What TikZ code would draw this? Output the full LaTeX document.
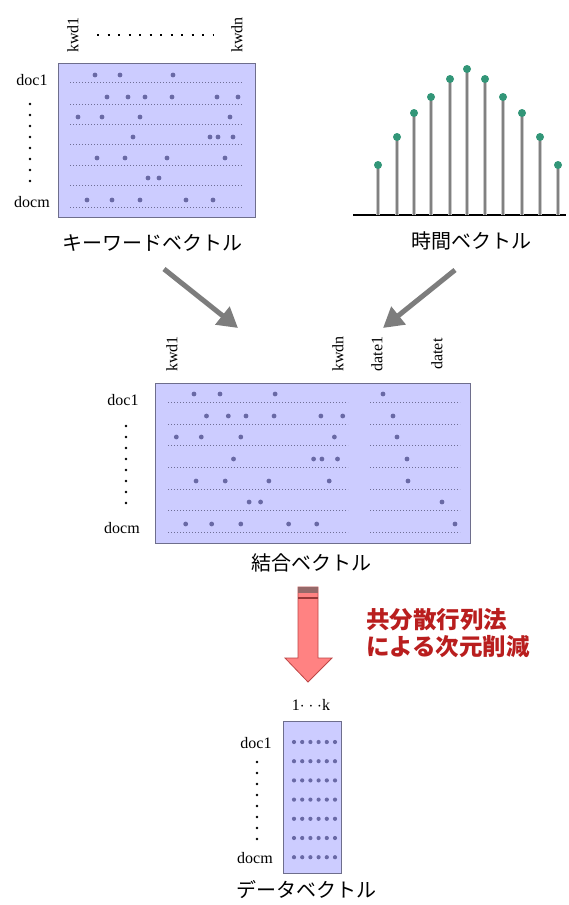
\documentclass[tikz,border=0pt]{standalone}
\usepackage{fontspec}
\setmainfont{Liberation Serif}
\newfontfamily\jp{Noto Sans CJK JP}
\usetikzlibrary{arrows.meta}
\definecolor{matfill}{RGB}{204,204,255}
\definecolor{matedge}{RGB}{110,110,140}
\definecolor{markc}{RGB}{105,105,165}
\definecolor{linec}{RGB}{110,110,150}
\definecolor{teal}{RGB}{50,150,120}
\definecolor{stemc}{RGB}{150,150,150}
\definecolor{arrg}{RGB}{125,125,125}
\definecolor{pinkf}{RGB}{255,130,130}
\definecolor{pinke}{RGB}{190,70,70}
\definecolor{pinkband}{RGB}{150,105,105}
\definecolor{redtxt}{RGB}{185,30,30}
\tikzset{
  matbox/.style={fill=matfill, draw=matedge, line width=1.2pt},
  rowline/.style={draw=linec, line width=0.8pt, dash pattern=on 1.4pt off 1.6pt},
  mk/.style={fill=markc},
  lbl/.style={font=\fontsize{16}{16}\selectfont, inner sep=0pt},
  rlbl/.style={font=\fontsize{16}{16}\selectfont, inner sep=0pt, rotate=90},
  jlbl/.style={font=\jp\fontsize{20}{20}\selectfont, inner sep=0pt},
  bigarrow/.style={draw=arrg, line width=5pt, -{Triangle[length=20pt,width=22pt]}},
  vdot/.style={fill=black},
}
\begin{document}
\begin{tikzpicture}[x=1pt,y=-1pt]
\useasboundingbox (0,0) rectangle (568,905);
\fill[white] (0,0) rectangle (568,905);

% ---------- keyword matrix ----------
\node[matbox, minimum width=197pt, minimum height=154pt, anchor=north west, inner sep=0pt] (kwmat) at (58,63) {};
\foreach \y/\xs in {75/{95,120,173},97/{107,128,145,172,217,238},117/{78,102,140,230},137/{133,210,218,233},158/{97,125,167,225},178/{148,159},200/{87,112,140,186,213}}{
  \draw[rowline] (70,\y+7) -- (243,\y+7);
  \foreach \x in \xs {\fill[mk] (\x,\y) circle (2.4pt);}
}
\node[rlbl] (kwd1a) at (73,35) {kwd1};
\node[rlbl] (kwdna) at (237,35) {kwdn};
\coordinate (hd1) at (97,35);
\coordinate (hd2) at (214,35);
\draw[line width=2.3pt, dash pattern=on 2.3pt off 8.2pt] (hd1) -- (hd2);
\node[lbl] (doc1a) at (32,80) {doc1};
\node[lbl] (docma) at (32,202) {docm};
\foreach \i in {0,...,7} {\fill[vdot] (30,{104+\i*11}) circle (1.3pt);}
\node[jlbl] (kwlbl) at (152,243) {キーワードベクトル};

% ---------- time vector ----------
\coordinate (tb1) at (353,215);
\coordinate (tb2) at (566,215);
\draw[line width=1.6pt] (tb1) -- (tb2);
\foreach \x/\t in {378/165,397/137,414/113,431/97,450/79,467/69,485/79,503/97,522/113,540/137,558/165}{
  \draw[stemc!50, line width=3.5pt] (\x,215) -- (\x,\t);
  \draw[stemc!120, line width=1.3pt] (\x,215) -- (\x,\t);
  \fill[teal] (\x,\t) circle (4pt);
}
\node[jlbl] (tvlbl) at (471,241) {時間ベクトル};

% ---------- arrows to combined ----------
\coordinate (a1s) at (164,269);
\coordinate (a1e) at (238,328);
\coordinate (a2s) at (455,270);
\coordinate (a2e) at (383,328);
\draw[bigarrow] (a1s) -- (a1e);
\draw[bigarrow] (a2s) -- (a2e);

% ---------- combined matrix ----------
\node[matbox, minimum width=315pt, minimum height=160pt, anchor=north west, inner sep=0pt] (cmat) at (155,383) {};
\foreach \y/\xs/\ds in {394/{95,120,173}/{383},416/{107,128,145,172,217,238}/{393},437/{78,102,140,230}/{397},459/{133,210,218,233}/{407},481/{97,125,167,225}/{408},502/{148,159}/{442},524/{87,112,140,186,213}/{455}}{
  \draw[rowline] (168,\y+8) -- (348,\y+8);
  \draw[rowline] (370,\y+8) -- (460,\y+8);
  \foreach \x in \xs {\fill[mk] ({168+(\x-70)*1.04},\y) circle (2.4pt);}
  \foreach \x in \ds {\fill[mk] (\x,\y) circle (2.4pt);}
}
\node[rlbl] (kwd1b) at (172,354) {kwd1};
\node[rlbl] (kwdnb) at (338,354) {kwdn};
\node[rlbl] (date1) at (377,354) {date1};
\node[rlbl] (datet) at (437,354) {datet};
\node[lbl] (doc1b) at (123,400) {doc1};
\node[lbl] (docmb) at (122,528) {docm};
\foreach \i in {0,...,7} {\fill[vdot] (126,{426+\i*11}) circle (1.3pt);}
\node[jlbl] (cmlbl) at (311,563) {結合ベクトル};

% ---------- pink arrow ----------
\filldraw[fill=pinkf, draw=pinke, line width=0.8pt] (298,587) -- (318,587) -- (318,658) -- (332,658) -- (308,682) -- (285,658) -- (298,658) -- cycle;
\fill[pinkband] (298.4,587.4) rectangle (317.6,593);
\draw[pinke!80!black, line width=1.2pt] (298.4,598) -- (317.6,598);
\node[font=\jp\bfseries\fontsize{23.5}{27}\selectfont, text=redtxt, align=left, inner sep=0pt, anchor=west] (redtxt) at (366,633) {共分散行列法\\による次元削減};

% ---------- data matrix ----------
\node[matbox, minimum width=58pt, minimum height=152pt, anchor=north west, inner sep=0pt] (dmat) at (283,721) {};
\foreach \i in {0,...,6}{
  \foreach \j in {0,...,5}{
    \fill[mk] ({294+\j*8.2},{742+\i*19.2}) circle (2.1pt);
  }
}
\node[lbl] (klbl) at (311,705) {1$\cdot\cdot\cdot$k};
\node[lbl] (doc1c) at (256,743) {doc1};
\node[lbl] (docmc) at (255,858) {docm};
\foreach \i in {0,...,7} {\fill[vdot] (257,{762+\i*11}) circle (1.3pt);}
\node[jlbl] (dvlbl) at (306,890) {データベクトル};
\end{tikzpicture}
\end{document}
